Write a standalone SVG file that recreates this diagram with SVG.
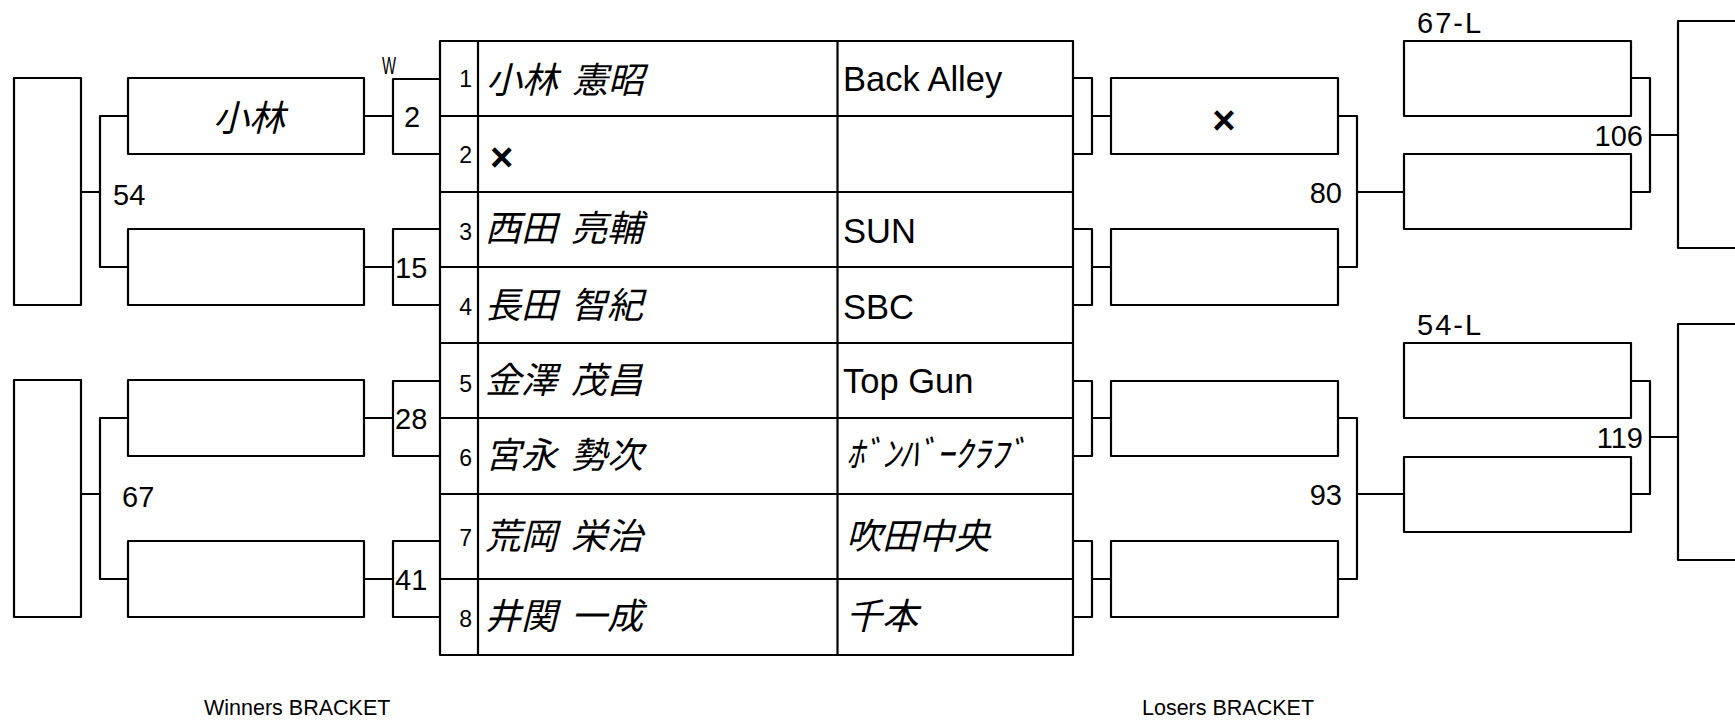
<svg xmlns="http://www.w3.org/2000/svg" width="1735" height="723" viewBox="0 0 1735 723">
<style>
.b{fill:none;stroke:#000;stroke-width:2.2;stroke-linejoin:round;stroke-linecap:round}
.t{font-family:"Liberation Sans",Arial,sans-serif;fill:#000}
.n{font-size:29px}
.s{font-size:23px;text-anchor:end}
.tm{font-size:34.5px}
.j{font-family:"Noto Sans CJK JP","Liberation Sans",sans-serif;font-style:italic;font-size:36px;fill:#000;word-spacing:6px}
.x{font-family:"Liberation Sans",Arial,sans-serif;font-weight:bold;font-size:40px;fill:#000}
.lab{font-size:21.5px}
</style>
<rect width="1735" height="723" fill="#fff"/>

<g id="connectors" class="b">
<path d="M81,192 H100 M128,116 H100 V267 H128"/>
<path d="M81,494 H100 M128,418 H100 V579 H128"/>
<path d="M364,116 H393 M440,79 H393 V154 H440"/>
<path d="M364,267 H393 M440,229 H393 V305 H440"/>
<path d="M364,418 H393 M440,381 H393 V456 H440"/>
<path d="M364,579 H393 M440,541 H393 V617 H440"/>
<path d="M1073,78 H1092 V154 H1073 M1092,116 H1111"/>
<path d="M1073,229 H1092 V305 H1073 M1092,267 H1111"/>
<path d="M1073,381 H1092 V456 H1073 M1092,418 H1111"/>
<path d="M1073,541 H1092 V617 H1073 M1092,579 H1111"/>
<path d="M1338,116 H1357 V267 H1338 M1357,192 H1404"/>
<path d="M1338,418 H1357 V579 H1338 M1357,494 H1404"/>
<path d="M1631,78 H1650 V192 H1631 M1650,135 H1678"/>
<path d="M1631,381 H1650 V494 H1631 M1650,437 H1678"/>
</g>

<g id="wb-final-54"><rect class="b" x="14" y="78" width="67" height="227"/></g>
<g id="wb-final-67"><rect class="b" x="14" y="380" width="67" height="237"/></g>

<g id="wb-2"><rect class="b" x="128" y="78" width="236" height="76"/><text class="j" x="249" y="131" text-anchor="middle">小林</text></g>
<g id="wb-15"><rect class="b" x="128" y="229" width="236" height="76"/></g>
<g id="wb-28"><rect class="b" x="128" y="380" width="236" height="76"/></g>
<g id="wb-41"><rect class="b" x="128" y="541" width="236" height="76"/></g>

<g id="labels-wb" class="t">
<text x="382" y="74" font-size="24" textLength="14" lengthAdjust="spacingAndGlyphs">W</text>
<text class="n" x="404" y="127">2</text>
<text class="n" x="395" y="278">15</text>
<text class="n" x="395" y="429">28</text>
<text class="n" x="395" y="590">41</text>
<text class="n" x="113" y="205">54</text>
<text class="n" x="122" y="507">67</text>
</g>

<g id="entry-table">
<rect class="b" x="440" y="41" width="633" height="614"/>
<path class="b" d="M478,41 V655 M837.5,41 V655 M440,116 H1073 M440,192 H1073 M440,267 H1073 M440,343 H1073 M440,418 H1073 M440,494 H1073 M440,579 H1073"/>
<g class="t s">
<text x="472" y="87">1</text>
<text x="472" y="163">2</text>
<text x="472" y="240">3</text>
<text x="472" y="315">4</text>
<text x="472" y="392">5</text>
<text x="472" y="466">6</text>
<text x="472" y="546">7</text>
<text x="472" y="627">8</text>
</g>
<g class="j">
<text x="486" y="92.5">小林 憲昭</text>
<text x="485" y="241">西田 亮輔</text>
<text x="485" y="317.5">長田 智紀</text>
<text x="485" y="393">金澤 茂昌</text>
<text x="485" y="467.5">宮永 勢次</text>
<text x="485" y="549">荒岡 栄治</text>
<text x="485" y="629">井関 一成</text>
<text x="846" y="467">ﾎﾞﾝﾊﾞｰｸﾗﾌﾞ</text>
<text x="846" y="549">吹田中央</text>
<text x="846" y="629">千本</text>
</g>
<text class="x" x="490" y="171">×</text>
<g class="t tm">
<text x="843" y="91">Back Alley</text>
<text x="843" y="243">SUN</text>
<text x="843" y="319">SBC</text>
<text x="843" y="393">Top Gun</text>
</g>
</g>

<g id="lb-80a"><rect class="b" x="1111" y="78" width="227" height="76"/><text class="x" x="1224" y="134" text-anchor="middle">×</text></g>
<g id="lb-80b"><rect class="b" x="1111" y="229" width="227" height="76"/></g>
<g id="lb-93a"><rect class="b" x="1111" y="381" width="227" height="75"/></g>
<g id="lb-93b"><rect class="b" x="1111" y="541" width="227" height="76"/></g>
<g id="lb-106a"><rect class="b" x="1404" y="41" width="227" height="75"/></g>
<g id="lb-106b"><rect class="b" x="1404" y="154" width="227" height="75"/></g>
<g id="lb-119a"><rect class="b" x="1404" y="343" width="227" height="75"/></g>
<g id="lb-119b"><rect class="b" x="1404" y="457" width="227" height="75"/></g>
<g id="lb-final-106"><rect class="b" x="1678" y="21" width="100" height="227"/></g>
<g id="lb-final-119"><rect class="b" x="1678" y="324" width="100" height="236"/></g>

<g id="labels-lb" class="t">
<text class="n" x="1342" y="203" text-anchor="end">80</text>
<text class="n" x="1342" y="505" text-anchor="end">93</text>
<text class="n" x="1643" y="146" text-anchor="end">106</text>
<text class="n" x="1643" y="448" text-anchor="end">119</text>
<text class="n" x="1417" y="33" font-size="31" letter-spacing="2">67-L</text>
<text class="n" x="1417" y="335" font-size="31" letter-spacing="2">54-L</text>
</g>

<g id="titles" class="t lab">
<text x="204" y="715">Winners BRACKET</text>
<text x="1142" y="715">Losers BRACKET</text>
</g>
</svg>
